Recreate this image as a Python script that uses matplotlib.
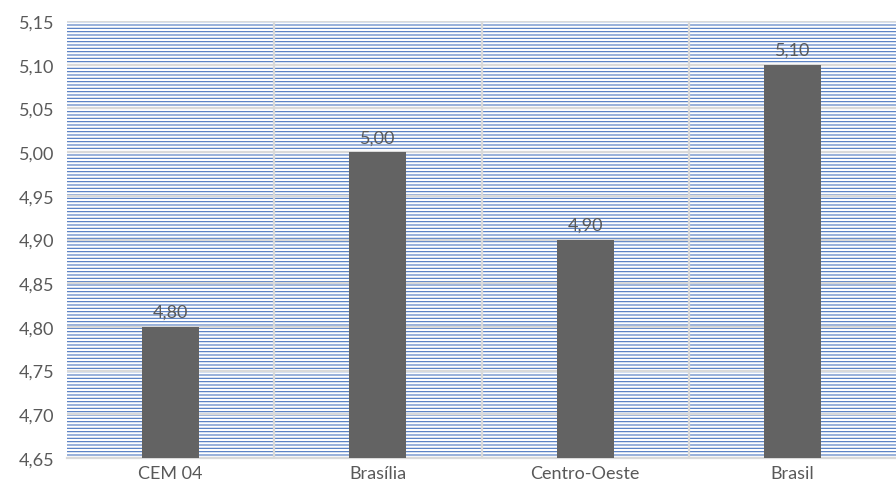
import matplotlib
matplotlib.use("Agg")
import matplotlib.pyplot as plt
from matplotlib.ticker import FixedLocator, FuncFormatter

categories = ["CEM 04", "Brasília", "Centro-Oeste", "Brasil"]
values = [4.80, 5.00, 4.90, 5.10]
y_ticks = [4.65, 4.70, 4.75, 4.80, 4.85, 4.90, 4.95, 5.00, 5.05, 5.10, 5.15]

plt.rcParams["font.family"] = ["Lato", "DejaVu Sans"]
plt.rcParams["hatch.color"] = "#4a76c0"
plt.rcParams["hatch.linewidth"] = 0.8

fig = plt.figure(figsize=(8.96, 4.89), dpi=100)
ax = fig.add_axes([67 / 896, 30 / 489, 829 / 896, 437 / 489])

# striped plot-area fill
ax.patch.set_facecolor("white")
ax.patch.set_hatch("-----")
ax.patch.set_edgecolor("#4a76c0")

x = list(range(len(categories)))
ax.bar(x, values, width=0.275, color="#636363", zorder=3, bottom=0)

for xi, v in zip(x, values):
    ax.annotate(f"{v:.2f}".replace(".", ","), (xi, v), xytext=(0, 5),
                textcoords="offset points", ha="center", va="bottom",
                fontsize=13, color="#595959", zorder=4)

ax.set_xlim(-0.5, len(categories) - 0.5)
ax.set_ylim(4.65, 5.15)
ax.yaxis.set_major_locator(FixedLocator(y_ticks))
ax.yaxis.set_major_formatter(FuncFormatter(lambda v, p: f"{v:.2f}".replace(".", ",")))
ax.set_xticks(x)
ax.set_xticklabels(categories)

ax.grid(axis="y", color="#d9d9d9", linewidth=1.6, zorder=1)
ax.set_axisbelow(True)
for b in [0.5, 1.5, 2.5]:
    ax.axvline(b, color="#d9d9d9", linewidth=1.6, zorder=1)

ax.tick_params(axis="both", length=0, labelsize=13, colors="#595959")
ax.tick_params(axis="x", pad=5)
ax.tick_params(axis="y", pad=9)
for s in ["top", "right", "left"]:
    ax.spines[s].set_visible(False)
ax.spines["bottom"].set_color("#d9d9d9")
ax.spines["bottom"].set_linewidth(1.6)

fig.savefig("out.png", dpi=100)
